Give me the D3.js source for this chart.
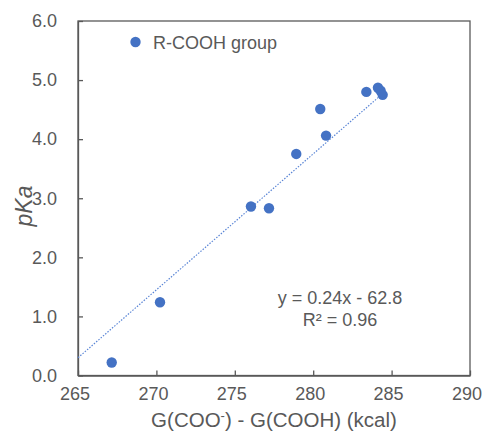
<!DOCTYPE html>
<html>
<head>
<meta charset="utf-8">
<script src="https://cdn.jsdelivr.net/npm/d3@7/dist/d3.min.js"></script>
<style>
  html, body { margin: 0; padding: 0; background: #fff; }
  svg { display: block; }
  text { font-family: "Liberation Sans", Arial, sans-serif; fill: #595959; }
</style>
</head>
<body>
<svg id="chart" width="483" height="437"></svg>
<script>
// Data
const xValues = [267.15, 270.23, 276.03, 277.18, 278.92, 280.82, 280.45, 283.39, 284.13, 284.30, 284.43];
const pKaValues = [0.22, 1.24, 2.86, 2.83, 3.75, 4.06, 4.51, 4.80, 4.87, 4.82, 4.75];
const xTicks = [265, 270, 275, 280, 285, 290];
const yTicks = [0, 1, 2, 3, 4, 5, 6];
const trendX = [265, 284.43];
const trendY = [0.30, 4.77];
const legendLabel = "R-COOH group";
const equationLines = ["y = 0.24x - 62.8", "R² = 0.96"];

const W = 483, H = 437;
const margin = { left: 78, right: 13, top: 21, bottom: 61.5 };
const svg = d3.select("#chart");

const x = d3.scaleLinear().domain([265, 290]).range([margin.left, W - margin.right]);
const y = d3.scaleLinear().domain([0, 6]).range([H - margin.bottom, margin.top]);

const axisColor = "#595959";

// Frame (box)
svg.append("rect")
  .attr("x", x(265)).attr("y", y(6))
  .attr("width", x(290) - x(265)).attr("height", y(0) - y(6))
  .attr("fill", "none").attr("stroke", axisColor).attr("stroke-width", 1.3);

// X axis (inward ticks)
const xAxis = svg.append("g")
  .attr("transform", `translate(0,${y(0)})`)
  .call(d3.axisBottom(x).tickValues(xTicks).tickSizeInner(-5).tickSizeOuter(0).tickPadding(12)
        .tickFormat(d3.format("d")));
xAxis.select(".domain").attr("stroke", axisColor).attr("stroke-width", 1.3);
xAxis.selectAll(".tick line").attr("stroke", axisColor).attr("stroke-width", 1.3);
xAxis.selectAll(".tick text").attr("font-size", 18).attr("fill", "#595959").attr("dx", -3.5)
  .style("font-family", '"Liberation Sans", Arial, sans-serif');

// Y axis (inward ticks)
const yAxis = svg.append("g")
  .attr("transform", `translate(${x(265)},0)`)
  .call(d3.axisLeft(y).tickValues(yTicks).tickSizeInner(-5).tickSizeOuter(0).tickPadding(21)
        .tickFormat(d3.format(".1f")));
yAxis.select(".domain").attr("stroke", axisColor).attr("stroke-width", 1.3);
yAxis.selectAll(".tick line").attr("stroke", axisColor).attr("stroke-width", 1.3);
yAxis.selectAll(".tick text").attr("font-size", 18).attr("fill", "#595959")
  .style("font-family", '"Liberation Sans", Arial, sans-serif');

// Trendline (dotted)
svg.append("line")
  .attr("x1", x(trendX[0])).attr("y1", y(trendY[0]))
  .attr("x2", x(trendX[1])).attr("y2", y(trendY[1]))
  .attr("stroke", "#5B86D6").attr("stroke-width", 1.2)
  .attr("stroke-dasharray", "1.5,1.5");

// Points
const pts = xValues.map((v, i) => ({ x: v, y: pKaValues[i] }));
svg.append("g").selectAll("circle").data(pts).join("circle")
  .attr("cx", d => x(d.x)).attr("cy", d => y(d.y)).attr("r", 5.2)
  .attr("fill", "#4472C4");

// Legend
svg.append("circle").attr("cx", 135.5).attr("cy", 42).attr("r", 5.2).attr("fill", "#4472C4");
svg.append("text").attr("x", 153).attr("y", 48.5).attr("font-size", 18).text(legendLabel);

// Equation
svg.append("text").attr("x", 340).attr("y", 304).attr("font-size", 18)
  .attr("text-anchor", "middle").text(equationLines[0]);
svg.append("text").attr("x", 340).attr("y", 326).attr("font-size", 18)
  .attr("text-anchor", "middle").text(equationLines[1]);

// Axis titles
const xt = svg.append("text").attr("x", (x(265) + x(290)) / 2).attr("y", 427)
  .attr("font-size", 20.5).attr("text-anchor", "middle");
xt.append("tspan").text("G(COO");
xt.append("tspan").attr("dy", -7).attr("font-size", 13).text("-");
xt.append("tspan").attr("dy", 7).text(") - G(COOH) (kcal)");

svg.append("text")
  .attr("transform", `translate(32,206) rotate(-90)`)
  .attr("font-size", 23).attr("font-style", "italic").attr("text-anchor", "middle")
  .text("pKa");
</script>
</body>
</html>
